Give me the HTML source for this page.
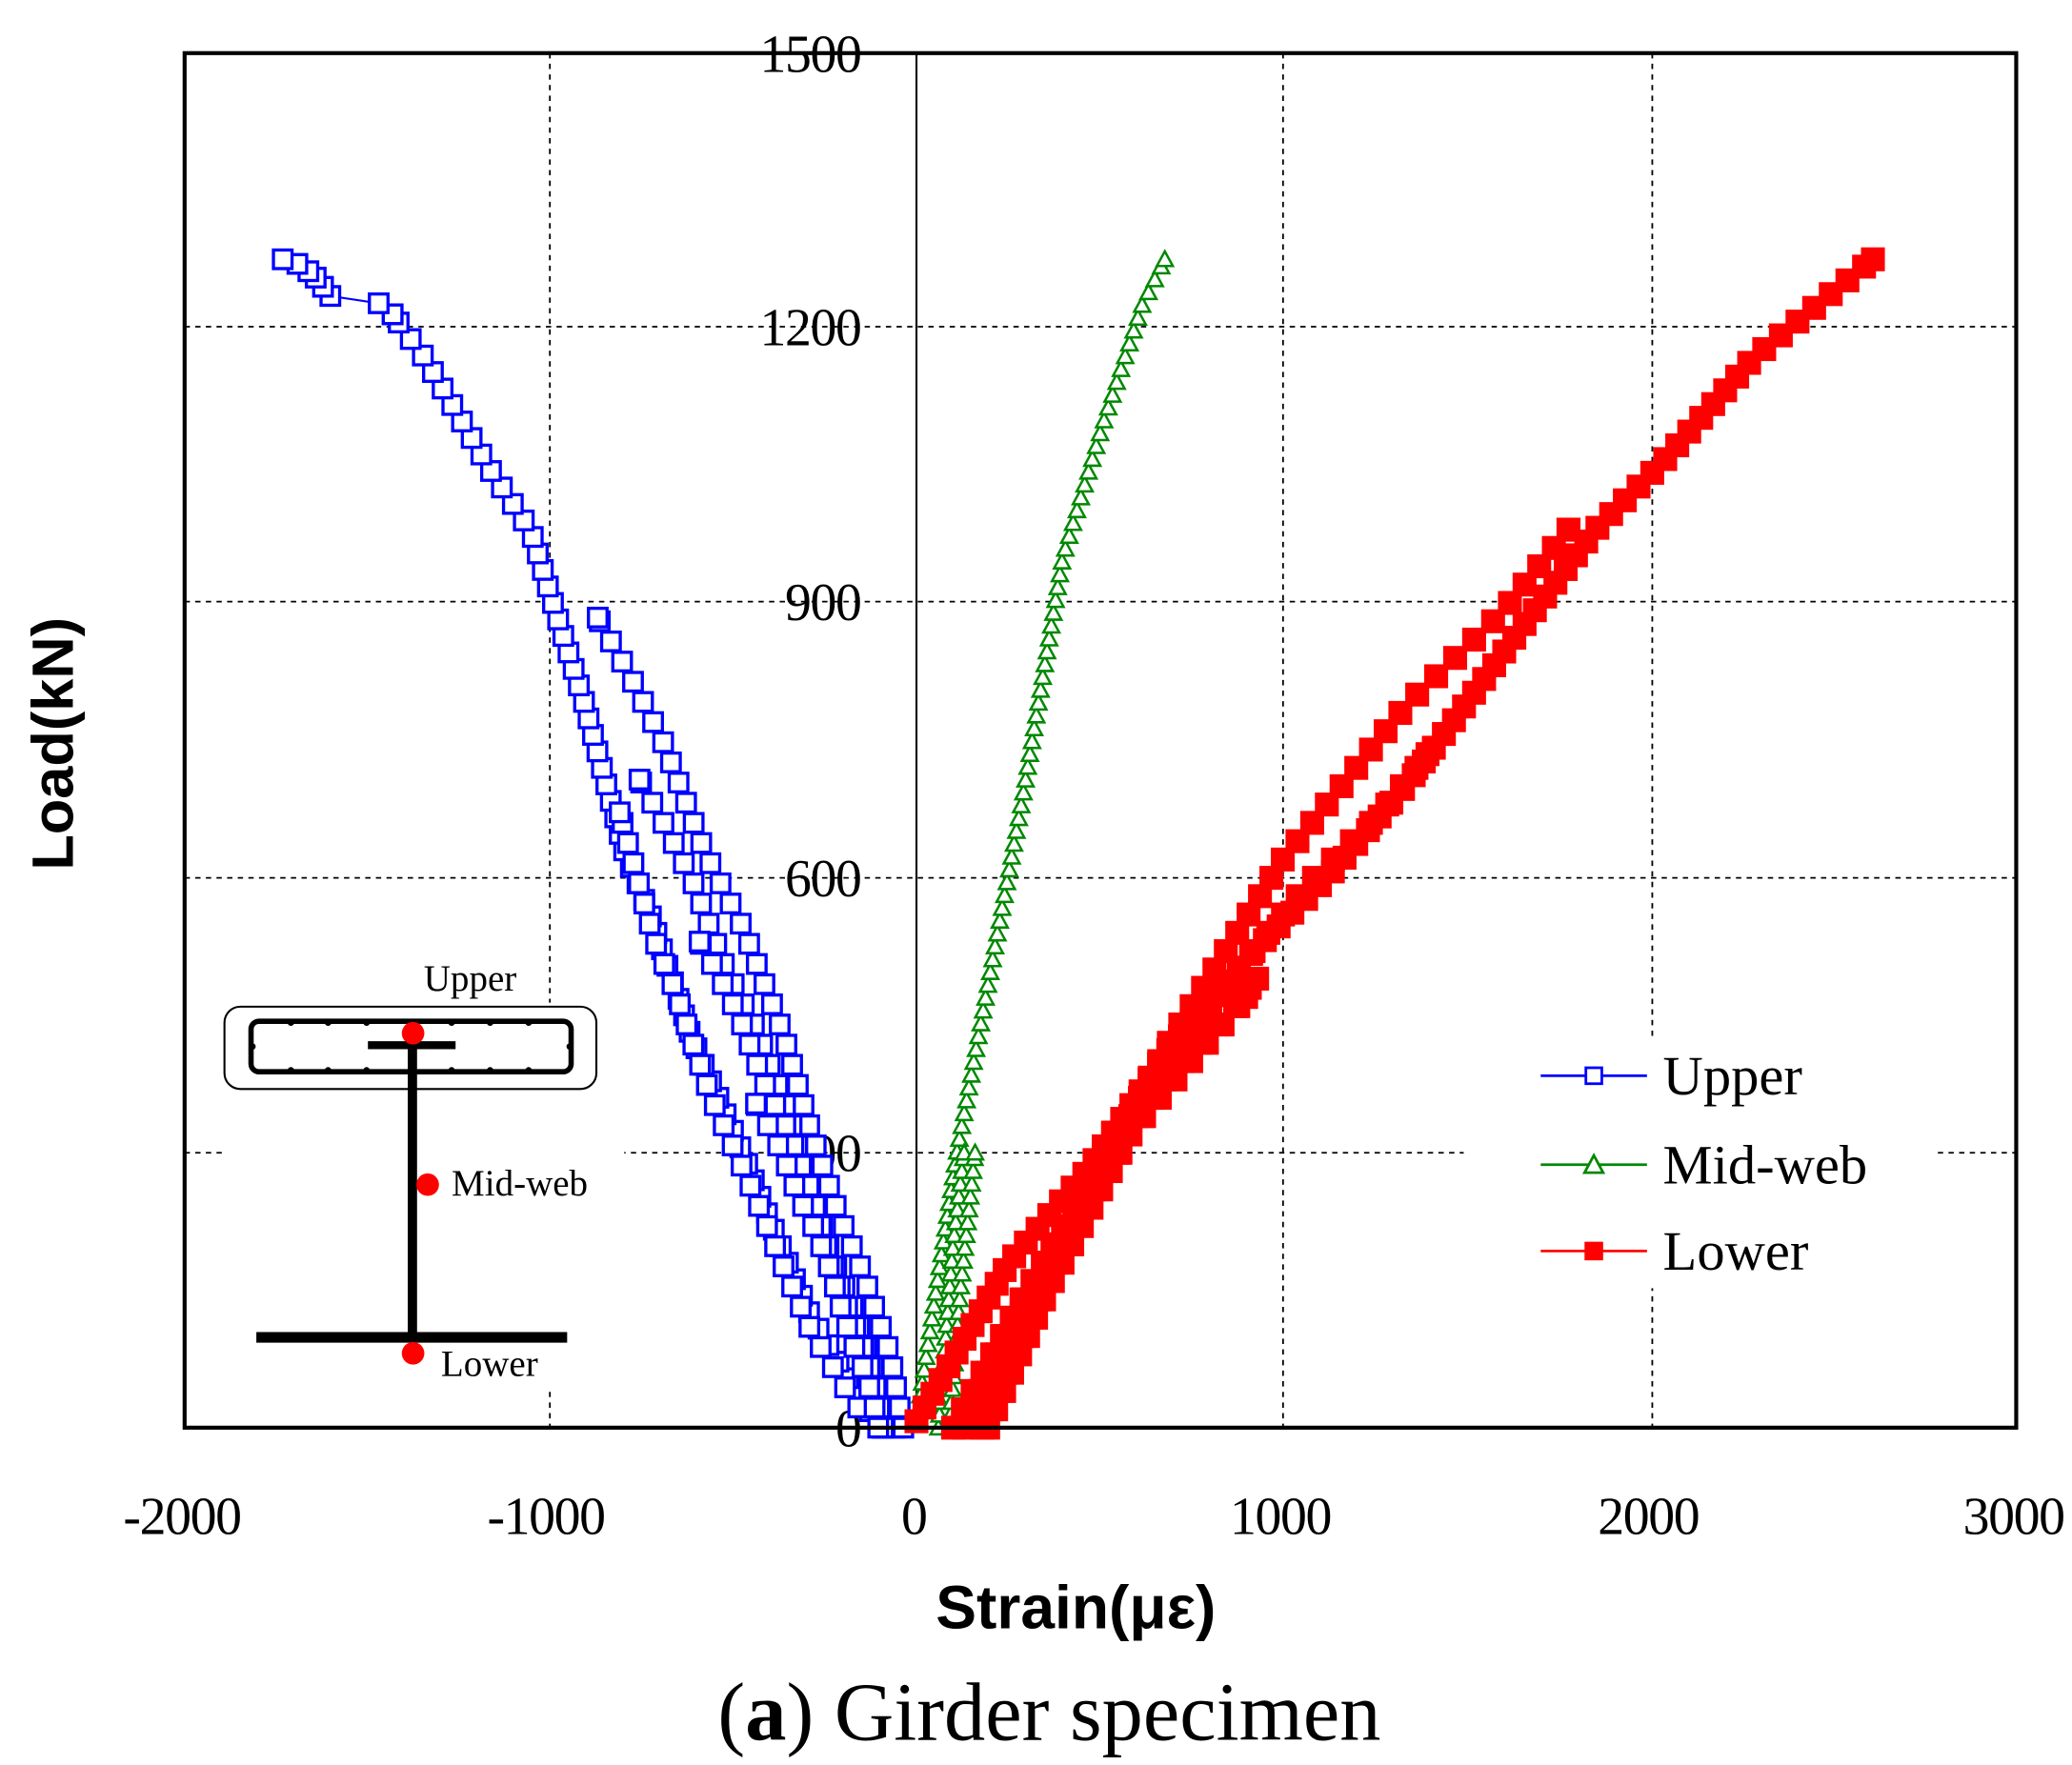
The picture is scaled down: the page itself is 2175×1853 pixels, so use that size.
<!DOCTYPE html>
<html><head><meta charset="utf-8"><style>
html,body{margin:0;padding:0;background:#fff;}
svg{display:block;}
.tk{font-family:"Liberation Serif",serif;font-size:40px;fill:#000;letter-spacing:-1px;}
</style></head><body>
<svg id="s" width="2175" height="1853" viewBox="0 0 1560 1329" preserveAspectRatio="none" xmlns="http://www.w3.org/2000/svg">
<rect width="1560" height="1329" fill="#fff"/>
<g stroke="#000" stroke-width="1.3" stroke-dasharray="4,4" fill="none">
<line x1="414" y1="40" x2="414" y2="1075"/>
<line x1="966" y1="40" x2="966" y2="1075"/>
<line x1="1244" y1="40" x2="1244" y2="1075"/>
<line x1="139" y1="246" x2="1518" y2="246"/>
<line x1="139" y1="453" x2="1518" y2="453"/>
<line x1="139" y1="661" x2="1518" y2="661"/>
<line x1="139" y1="868" x2="1518" y2="868"/>
</g>
<rect x="170" y="755" width="300" height="290" fill="#fff"/>
<rect x="1102" y="780" width="356" height="190" fill="#fff"/>
<line x1="690" y1="40" x2="690" y2="1075" stroke="#000" stroke-width="1.5"/>
<g class="tk" text-anchor="end">
<text x="648" y="54">1500</text>
<text x="648" y="260">1200</text>
<text x="648" y="467">900</text>
<text x="648" y="675">600</text>
<text x="648" y="882">300</text>
<text x="648" y="1089">0</text>
</g>
<g class="tk" text-anchor="middle">
<text x="137" y="1155">-2000</text>
<text x="411" y="1155">-1000</text>
<text x="688" y="1155">0</text>
<text x="964" y="1155">1000</text>
<text x="1241" y="1155">2000</text>
<text x="1516" y="1155">3000</text>
</g>
<g id="data"></g>
<rect x="139" y="40" width="1379" height="1035" fill="none" stroke="#000" stroke-width="3"/>
<!-- inset -->
<rect x="169" y="758" width="280" height="62" rx="12" fill="none" stroke="#000" stroke-width="1.5"/>
<rect x="189" y="769" width="241" height="38" rx="6" fill="none" stroke="#000" stroke-width="4"/>
<g fill="#000">
<circle cx="219" cy="770" r="2.5"/><circle cx="247" cy="770" r="2.5"/><circle cx="276" cy="770" r="2.5"/><circle cx="340" cy="770" r="2.5"/><circle cx="369" cy="770" r="2.5"/><circle cx="398" cy="770" r="2.5"/>
<circle cx="219" cy="806" r="2.5"/><circle cx="247" cy="806" r="2.5"/><circle cx="276" cy="806" r="2.5"/><circle cx="340" cy="806" r="2.5"/><circle cx="369" cy="806" r="2.5"/><circle cx="398" cy="806" r="2.5"/>
<circle cx="190" cy="788" r="2.5"/><circle cx="429" cy="788" r="2.5"/>
</g>
<rect x="277" y="784" width="66" height="6" fill="#000"/>
<rect x="307" y="787" width="7" height="222" fill="#000"/>
<rect x="193" y="1003" width="234" height="8" fill="#000"/>
<circle cx="311" cy="778" r="8.5" fill="#f00"/>
<circle cx="322" cy="892" r="8.5" fill="#f00"/>
<circle cx="311" cy="1019" r="8.5" fill="#f00"/>
<g font-family="Liberation Serif,serif" font-size="28" fill="#000">
<text x="319" y="746">Upper</text>
<text x="340" y="900">Mid-web</text>
<text x="332" y="1036">Lower</text>
</g>
<!-- legend -->
<g font-family="Liberation Serif,serif" font-size="42" fill="#000">
<line x1="1160" y1="810" x2="1240" y2="810" stroke="#00f" stroke-width="2"/>
<rect x="1194" y="804" width="12" height="12" fill="#fff" stroke="#00f" stroke-width="2"/>
<text x="1252" y="824">Upper</text>
<line x1="1160" y1="877" x2="1240" y2="877" stroke="#080" stroke-width="2"/>
<polygon points="1200,870 1207,883 1193,883" fill="#fff" stroke="#080" stroke-width="2"/>
<text x="1252" y="891">Mid-web</text>
<line x1="1160" y1="942" x2="1240" y2="942" stroke="#f00" stroke-width="2"/>
<rect x="1193" y="935" width="14" height="14" fill="#f00"/>
<text x="1252" y="956">Lower</text>
</g>
<text x="0" y="0" transform="translate(55,560) rotate(-90)" text-anchor="middle" font-family="Liberation Sans,sans-serif" font-weight="bold" font-size="44">Load(kN)</text>
<text x="810" y="1226" text-anchor="middle" font-family="Liberation Sans,sans-serif" font-weight="bold" font-size="46">Strain(με)</text>
<text x="790" y="1310" text-anchor="middle" font-family="Liberation Serif,serif" font-size="62">(<tspan font-weight="bold">a</tspan>) Girder specimen</text>
</svg>
<script>
(function(){
var NS="http://www.w3.org/2000/svg",g=document.getElementById("data");
function X(s){return 690+s*0.2758;}function Y(l){return 1075-l*0.69;}
function interp(pts,l){for(var i=0;i<pts.length-1;i++){var a=pts[i],b=pts[i+1];if(l>=a[1]&&l<=b[1]){var t=(l-a[1])/(b[1]-a[1]||1);return a[0]+t*(b[0]-a[0]);}}return pts[pts.length-1][0];}
function el(n,a){var e=document.createElementNS(NS,n);for(var k in a)e.setAttribute(k,a[k]);g.appendChild(e);return e;}
function branch(pts,step,col,mk){var ms=[];var top=pts[pts.length-1][1],bot=pts[0][1];
 for(var l=bot;l<=top+0.1;l+=step){ms.push([X(interp(pts,l)),Y(l)]);}
 var last=pts[pts.length-1];ms.push([X(last[0]),Y(last[1])]);
 var d="";ms.forEach(function(p,i){d+=(i?"L":"M")+p[0].toFixed(1)+" "+p[1].toFixed(1);});
 el("path",{d:d,fill:"none",stroke:col,"stroke-width":1.5});
 ms.forEach(function(p){mk(p[0],p[1]);});}
function pl(pts,col,mk){var d="";pts.forEach(function(p,i){d+=(i?"L":"M")+X(p[0]).toFixed(1)+" "+Y(p[1]).toFixed(1);});
 el("path",{d:d,fill:"none",stroke:col,"stroke-width":1.5});pts.forEach(function(p){mk(X(p[0]),Y(p[1]));});}
function sq(x,y){el("rect",{x:x-7,y:y-7,width:14,height:14,fill:"#fff",stroke:"#00f","stroke-width":2.4});}
function fsq(x,y){el("rect",{x:x-9,y:y-9,width:18,height:18,fill:"#f00"});}
function tri(x,y){el("polygon",{points:(x)+","+(y-6)+" "+(x+6)+","+(y+5)+" "+(x-6)+","+(y+5),fill:"#fff",stroke:"#080","stroke-width":1.8});}
// Upper
var U=[[-60,0],[-109,7],[-181,51],[-290,123],[-399,225],[-471,297],[-616,428],[-725,558],[-798,630],[-906,790],[-997,906],[-1052,978],[-1160,1043],[-1342,1167],[-1430,1215]];
var Ur=[[-36,0],[-72,80],[-145,167],[-218,239],[-290,326],[-362,428],[-471,543],[-580,630],[-689,746],[-780,819],[-870,884]];
function sc(pts,f,off){return pts.map(function(p){return [p[0]*f+off,p[1]*f];});}
branch(U,18,"#00f",sq);
pl([[-1430,1215],[-1468,1227],[-1600,1235],[-1620,1245],[-1640,1255],[-1660,1262],[-1690,1270],[-1730,1275]],"#00f",sq);
branch(Ur,22,"#00f",sq);
branch(sc(Ur,0.8,-60),22,"#00f",sq);
branch(sc(Ur,0.6,-70),22,"#00f",sq);
branch(sc(U.slice(0,10),0.85,-40),22,"#00f",sq);
branch(sc(Ur,0.4,-90),22,"#00f",sq);
// Mid-web
var M=[[0,7],[109,297],[290,688],[399,949],[508,1094],[616,1225],[678,1275]];
branch(M,14,"#080",tri);
branch([[60,0],[100,200],[130,300]],14,"#080",tri);
branch([[90,0],[120,150],[160,300]],14,"#080",tri);
// Lower
var L=[[0,7],[254,181],[471,283],[689,413],[906,514],[1124,601],[1341,703],[1632,862],[1849,978],[2031,1051],[2284,1167],[2611,1275]];
branch(L,15,"#f00",fsq);
var Lr=[[181,0],[399,200],[689,420],[1000,620],[1341,790],[1600,890],[1780,980]];
branch(Lr,20,"#f00",fsq);
branch(sc(Lr,0.75,60),20,"#f00",fsq);
branch(sc(Lr,0.5,40),20,"#f00",fsq);
branch([[100,0],[300,150],[600,330],[900,470]],20,"#f00",fsq);
})();
</script>
</body></html>
